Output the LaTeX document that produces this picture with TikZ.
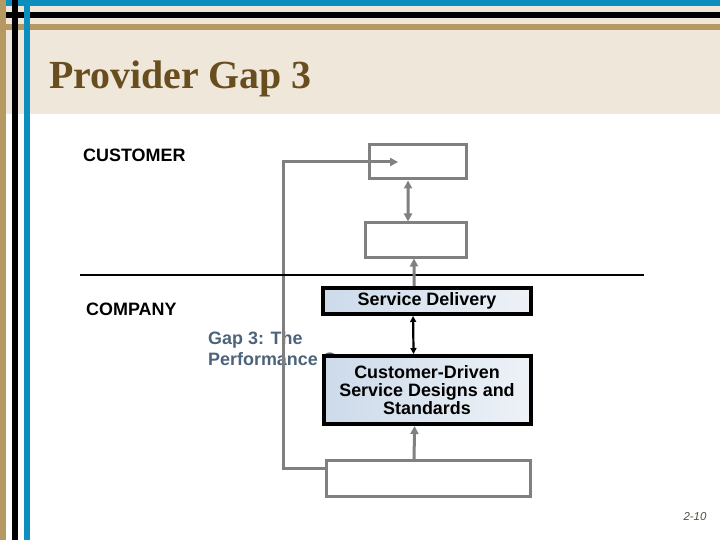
\documentclass[tikz,border=0pt]{standalone}
\usepackage{fontspec}
\setmainfont{Liberation Sans}
\newfontfamily\titlefont{Liberation Serif}
\usepackage{tikz}
\usetikzlibrary{shapes.geometric, arrows.meta, positioning}

\definecolor{hdrbeige}{RGB}{239,231,218}
\definecolor{hdrblue}{RGB}{12,143,190}
\definecolor{hdrtan}{RGB}{182,152,98}
\definecolor{titlebrown}{RGB}{104,78,30}
\definecolor{boxgray}{RGB}{128,128,128}
\definecolor{gaptext}{RGB}{77,99,122}
\definecolor{pageno}{RGB}{80,78,60}

\begin{document}
\begin{tikzpicture}[
  x=1bp, y=-1bp,
  every node/.style={font=\bfseries\fontsize{18}{18}\selectfont, align=center, inner sep=0pt},
  label/.style={anchor=base west, align=left},
  plainbox/.style={rectangle, draw=boxgray, line width=3bp, fill=white},
  gapbox/.style={rectangle, draw=black, line width=4bp,
    left color={rgb,255:red,204;green,218;blue,234}, right color={rgb,255:red,238;green,242;blue,247}},
  grayarrow/.style={-{Triangle[length=8bp,width=8bp]}, draw=boxgray, line width=3bp},
  blackarrow/.style={{Triangle[length=6bp,width=6bp]}-{Triangle[length=6bp,width=6bp]}, draw=black, line width=2.2bp}
]
\useasboundingbox (0,0) rectangle (720,540);

% Header band and stripes
\fill[hdrbeige] (0,0) rectangle (720,114);
\fill[hdrblue] (0,0) rectangle (720,6);
\fill[black] (0,12) rectangle (720,18);
\fill[hdrtan] (0,24) rectangle (720,30);
\fill[hdrtan] (0,0) rectangle (6,540);
\fill[black] (12,0) rectangle (18,540);
\fill[hdrblue] (24,0) rectangle (30,540);

% Title
\node[anchor=base west, text=titlebrown, font=\titlefont\bfseries\fontsize{40}{40}\selectfont] (title) at (49,89) {Provider Gap 3};

% Side labels
\node[label] (customer) at (83,162) {CUSTOMER};
\node[label] (company) at (86,315) {COMPANY};
\node[anchor=north west, align=left, text=gaptext, font=\bfseries\fontsize{18}{21}\selectfont] (gaplabel) at (208,331) {Gap 3: The\\Performance Gap};

% Nodes
\node[plainbox, minimum width=97bp, minimum height=34bp] (expected) at (417.5,162) {};
\node[plainbox, minimum width=101bp, minimum height=34bp] (perceived) at (415.5,240) {};
\node[plainbox, minimum width=204bp, minimum height=36bp] (perceptions) at (428.5,478.5) {};

% Feedback line and gray arrows
\draw[grayarrow] ([yshift=10.5]perceptions.west) -- ++(-42,0) |- ([xshift=-19.5]expected.center);
\draw[grayarrow, {Triangle[length=8bp,width=8bp]}-{Triangle[length=8bp,width=8bp]}] ([xshift=-9.5]expected.south) -- ([xshift=-7.5]perceived.north);

% Customer / company line
\draw[line width=2bp] (80,275) coordinate (lineL) -- (644,275) coordinate (lineR);

\node[gapbox, minimum width=208bp, minimum height=26bp] (delivery) at (427,301) {Service Delivery};
\node[gapbox, minimum width=207bp, minimum height=68bp, below=38bp of delivery] (standards) {Customer-Driven\\Service Designs and\\Standards};

\draw[grayarrow] ([xshift=-13]delivery.north) -- ([xshift=-1.5]perceived.south);
\draw[blackarrow] ([xshift=-14]delivery.south) -- ([xshift=-13.5]standards.north);
\draw[grayarrow] ([xshift=-14.5]perceptions.north) -- ([xshift=-12.5]standards.south);

% Page number
\node[text=pageno, font=\itshape\fontsize{11.5}{12}\selectfont] (page) at (695,517) {2-10};

\end{tikzpicture}
\end{document}
